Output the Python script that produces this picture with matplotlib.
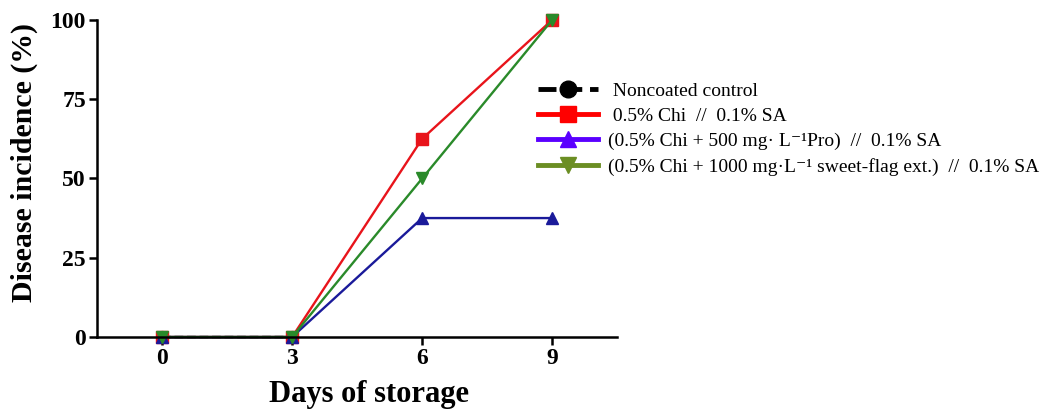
import numpy as np
import matplotlib
matplotlib.use("Agg")
import matplotlib.pyplot as plt
from matplotlib.lines import Line2D

days = [0, 3, 6, 9]
control = [0, 0, np.nan, np.nan]
chi = [0, 0, 62.5, 100]
chi_pro = [0, 0, 37.5, 37.5]
chi_sf = [0, 0, 50, 100]
labels = [" Noncoated control",
          " 0.5% Chi  //  0.1% SA",
          "(0.5% Chi + 500 mg\u00b7 L\u207b\u00b9Pro)  //  0.1% SA",
          "(0.5% Chi + 1000 mg\u00b7L\u207b\u00b9 sweet-flag ext.)  //  0.1% SA"]
yticks = [0, 25, 50, 75, 100]

plt.rcParams['font.family'] = ['Liberation Serif', 'DejaVu Serif']

fig = plt.figure(figsize=(10.48, 4.13), dpi=100)
ax = fig.add_axes([0.0926, 0.184, 0.4964, 0.768])

kw = dict(clip_on=False, linewidth=1.7, markersize=8.5)
ax.plot(days, control, color='black', linestyle='--', marker='o', **kw)
ax.plot(days, chi, color='#e8141b', marker='s', **kw)
ax.plot(days, chi_pro, color='#1a1a9a', marker='^', **kw)
ax.plot(days, chi_sf, color='#2a8a2a', marker='v', **kw)

ax.set_xlim(-1.5, 10.5)
ax.set_ylim(0, 100)
ax.set_xticks(days)
ax.set_yticks(yticks)
for s in ['top', 'right']:
    ax.spines[s].set_visible(False)
for s in ['left', 'bottom']:
    ax.spines[s].set_linewidth(1.8)
ax.tick_params(direction='out', length=6, width=1.8, labelsize=17, pad=2)
for t in ax.get_xticklabels() + ax.get_yticklabels():
    t.set_fontweight('bold')
ax.set_xlabel('Days of storage', fontsize=22, fontweight='bold')
ax.xaxis.set_label_coords(0.523, -0.135)
ax.set_ylabel('Disease incidence (%)', fontsize=21.5, fontweight='bold')
ax.yaxis.set_label_coords(-0.113, 0.55)

handles = [
    Line2D([], [], color='black', linestyle='--', linewidth=3.5, marker='o', markersize=12),
    Line2D([], [], color='#ff0000', linewidth=3.5, marker='s', markersize=11),
    Line2D([], [], color='#5a00ff', linewidth=3.5, marker='^', markersize=11),
    Line2D([], [], color='#6b8e23', linewidth=3.5, marker='v', markersize=11),
]
fig.legend(handles, labels, loc='upper left', bbox_to_anchor=(0.513, 0.80),
           frameon=False, fontsize=14, handlelength=3.1, handletextpad=0.5,
           labelspacing=0.38, borderaxespad=0, borderpad=0)

fig.savefig('out.png', dpi=100)
